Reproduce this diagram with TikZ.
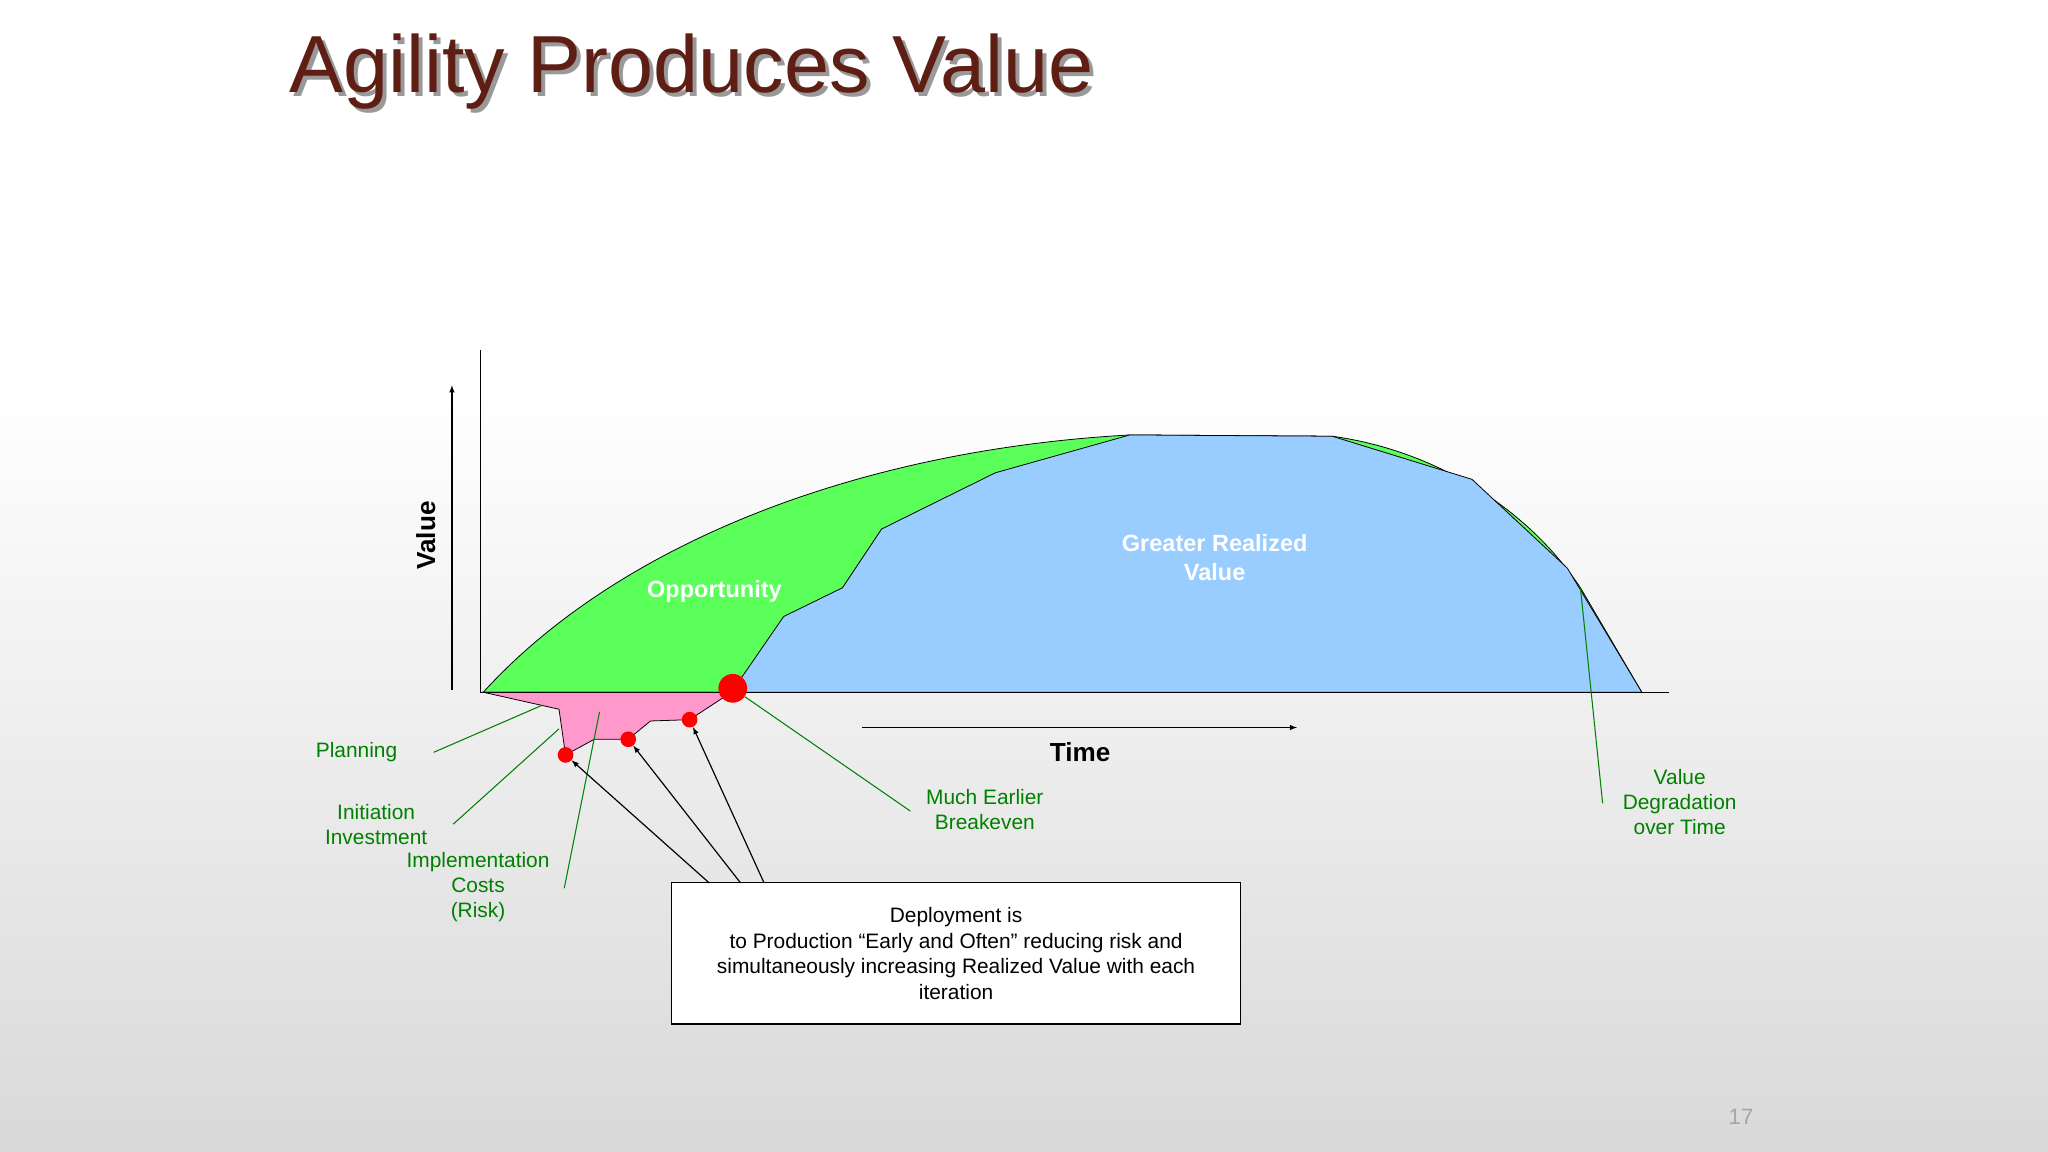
\documentclass[tikz,border=0pt]{standalone}
\usepackage{fontspec}
\setmainfont{Liberation Sans}
\begin{document}
\begin{tikzpicture}[x=1pt,y=-1pt,
 gl/.style={draw=green!50!black,line width=0.8pt},
 gt/.style={text=green!50!black,font=\fontsize{16}{19}\selectfont,align=center},
 dot/.style={circle,fill=red,inner sep=0pt,minimum size=12pt},
 ar/.style={-latex,line width=0.9pt}]
\useasboundingbox (0,0) rectangle (1568,882);
\shade[top color=white,bottom color=white] (0,0) rectangle (1568,300);
\shade[top color=white,bottom color=black!15] (0,300) rectangle (1568,882);
\node[anchor=west,text=black!40,font=\fontsize{62}{70}\selectfont] at (221,58) {Agility Produces Value};
\node[anchor=west,text={rgb,255:red,95;green,30;blue,20},font=\fontsize{62}{70}\selectfont] (title) at (218,55) {Agility Produces Value};
% areas
\fill[green!70!black!0,fill={rgb,255:red,90;green,255;blue,90},draw=black,line width=0.6pt] (370,530) .. controls (470,420) and (650,345) .. (865,333) -- (1020,334) .. controls (1100,345) and (1170,390) .. (1210,450) -- (1257,530) -- cycle;
\fill[fill={rgb,255:red,153;green,204;blue,255},draw=black,line width=0.6pt] (560,530) -- (600,472) -- (645,450) -- (675,405) -- (762,362) -- (865,333) -- (1020,334) -- (1127,367) -- (1200,435) -- (1257,530) -- cycle;
\fill[fill={rgb,255:red,255;green,153;blue,204},draw=black,line width=0.6pt] (370,530) -- (428,543) -- (433,578) -- (455,566) -- (481,566) -- (498,552) -- (528,551) -- (560,530) -- cycle;
% axes
\draw[line width=0.8pt] (368,268) -- (368,530) -- (1278,530);
\draw[ar] (346,528) -- (346,295);
\draw[ar] (660,557) -- (993,557);
\node[font=\bfseries\fontsize{20}{24}\selectfont] (time) at (827,576) {Time};
\node[rotate=90,font=\bfseries\fontsize{20}{24}\selectfont] (value) at (326,410) {Value};
\node[text=white,font=\bfseries\fontsize{18}{21}\selectfont] (opp) at (547,453) {Opportunity};
\node[text=white,font=\bfseries\fontsize{18}{22}\selectfont,align=center] (grv) at (930,427) {Greater Realized\\Value};
% dots
\node[dot] (d1) at (433,578) {};
\node[dot] (d2) at (481,566) {};
\node[dot] (d3) at (528,551) {};
\node[dot,minimum size=22pt] (d4) at (561,527) {};
% labels
\node[gt] (plan) at (273,576) {Planning};
\node[gt] (init) at (288,631) {Initiation\\Investment};
\node[gt] (impl) at (366,679) {Implementation\\Costs\\(Risk)};
\node[gt] (brk) at (754,620) {Much Earlier\\Breakeven};
\node[gt] (deg) at (1286,614) {Value\\Degradation\\over Time};
\coordinate (p1) at (415,540); \coordinate (p2) at (428,558); \coordinate (p3) at (459,545); \coordinate (p5) at (1210,450);
\draw[gl] (332,576) -- (p1);
\draw[gl] (347,631) -- (p2);
\draw[gl] (432,680) -- (p3);
\draw[gl] (697,621) -- (d4);
\draw[gl] (1227,615) -- (p5);
% box
\node[draw,fill=white,line width=0.8pt,minimum width=436pt,minimum height=108pt,align=center,font=\fontsize{16}{19.5}\selectfont] (box) at (732,730) {Deployment is\\to Production “Early and Often” reducing risk and\\simultaneously increasing Realized Value with each\\iteration};
\draw[ar] (543,676) -- (d1);
\draw[ar] (567,676) -- (d2);
\draw[ar] (585,676) -- (d3);
\node[text=black!35,font=\fontsize{17}{20}\selectfont] (pg) at (1333,855) {17};
\end{tikzpicture}
\end{document}
